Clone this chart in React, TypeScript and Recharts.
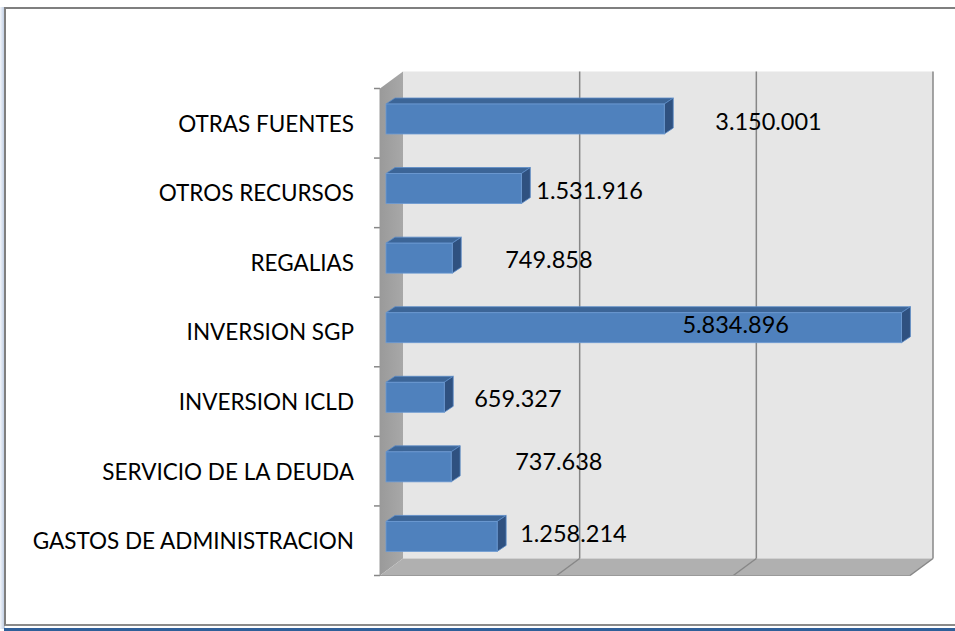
import React from "react";
import { BarChart, Bar, XAxis, YAxis, LabelList, usePlotArea } from "recharts";

const categories = [
  "OTRAS FUENTES",
  "OTROS RECURSOS",
  "REGALIAS",
  "INVERSION SGP",
  "INVERSION ICLD",
  "SERVICIO DE LA DEUDA",
  "GASTOS DE ADMINISTRACION",
];
const values = [3150001, 1531916, 749858, 5834896, 659327, 737638, 1258214];
const valueLabels = ["3.150.001", "1.531.916", "749.858", "5.834.896", "659.327", "737.638", "1.258.214"];
const xTicks = [0, 2000000, 4000000, 6000000];

// hand-moved data labels, as in the original workbook (dx from bar end, dy from bar centre)
const labelNudge: [number, number][] = [
  [51, 2], [15, 1], [53, 1], [-219, -4], [30, 1], [64, -6], [23, -3],
];

const data = categories.map((name, i) => ({ name, value: values[i], label: valueLabels[i] }));

const W = 955;
const H = 631;
const X_MAX = 6000000;
// 3D box: front plane and back plane, relative to the bar front face plane
const FRONT = { dx: -6, dy: 4.5 };
const BACK = { dx: 17, dy: -12.5 };
const BAR_DEPTH = { dx: 9, dy: -6 };

const FONT = "Lato, 'Open Sans', sans-serif";

function Walls() {
  const p = usePlotArea();
  if (!p) return null;
  const xs = (v: number) => p.x + (v / X_MAX) * p.width;
  const fx0 = p.x + FRONT.dx;
  const fTop = p.y + FRONT.dy;
  const fBot = p.y + p.height + FRONT.dy;
  const bx0 = p.x + BACK.dx;
  const bTop = p.y + BACK.dy;
  const bBot = p.y + p.height + BACK.dy;
  const bx1 = xs(X_MAX) + BACK.dx;
  const fx1 = xs(X_MAX) + FRONT.dx;
  const band = p.height / categories.length;

  return (
    <g>
      <defs>
        <linearGradient id="sideWall" x1="0" y1="0" x2="1" y2="0">
          <stop offset="0" stopColor="#9a9a9a" />
          <stop offset="1" stopColor="#a8a8a8" />
        </linearGradient>
      </defs>
      <rect x={bx0} y={bTop} width={bx1 - bx0} height={bBot - bTop} fill="#e6e6e6" />
      <polygon
        points={`${fx0},${fTop} ${bx0},${bTop} ${bx0},${bBot} ${fx0},${fBot}`}
        fill="url(#sideWall)"
      />
      <polygon
        points={`${fx0},${fBot} ${bx0},${bBot} ${bx1},${bBot} ${fx1},${fBot}`}
        fill="#b0b0b0"
      />
      {xTicks.slice(1).map((t) => (
        <g key={t}>
          <line x1={xs(t) + BACK.dx} y1={bTop} x2={xs(t) + BACK.dx} y2={bBot} stroke="#878787" strokeWidth={1.5} />
          <line x1={xs(t) + FRONT.dx} y1={fBot} x2={xs(t) + BACK.dx} y2={bBot} stroke="#878787" strokeWidth={1.5} />
        </g>
      ))}
      <line x1={fx0} y1={fBot} x2={fx1} y2={fBot} stroke="#9a9a9a" strokeWidth={1} />
      {Array.from({ length: categories.length + 1 }, (_, i) => (
        <line
          key={i}
          x1={fx0 - 6}
          x2={fx0}
          y1={fTop + i * band}
          y2={fTop + i * band}
          stroke="#878787"
          strokeWidth={1.5}
        />
      ))}
      <line x1={fx0} y1={fTop} x2={fx0} y2={fBot} stroke="#9a9a9a" strokeWidth={1} />
    </g>
  );
}

function Bar3D(props: any) {
  const { x, y, width, height } = props;
  if (width == null || width <= 0) return null;
  const { dx, dy } = BAR_DEPTH;
  return (
    <g>
      <polygon
        points={`${x},${y} ${x + dx},${y + dy} ${x + width + dx},${y + dy} ${x + width},${y}`}
        fill="#3c6597"
        stroke="#5b8cc8"
        strokeWidth={0.8}
      />
      <polygon
        points={`${x + width},${y} ${x + width + dx},${y + dy} ${x + width + dx},${y + height + dy} ${x + width},${y + height}`}
        fill="#2f5180"
        stroke="#5b8cc8"
        strokeWidth={0.8}
      />
      <rect x={x} y={y} width={width} height={height} fill="#4f81bd" stroke="#6e9bd3" strokeWidth={0.8} />
    </g>
  );
}

function ValueLabel(props: any) {
  const { x, y, width, height, index } = props;
  const [ndx, ndy] = labelNudge[index] || [10, 0];
  return (
    <text
      x={x + width + ndx}
      y={y + height / 2 + ndy}
      dominantBaseline="central"
      fontFamily={FONT}
      fontSize={23.5}
      fill="#000"
    >
      {valueLabels[index]}
    </text>
  );
}

export default function App() {
  return (
    <div style={{ position: "absolute", left: 0, top: 0, width: W, height: H, background: "#fff", overflow: "hidden" }}>
      <div
        style={{
          position: "absolute",
          left: 0,
          top: 7,
          width: 5,
          height: 622,
          background: "linear-gradient(to right, #f2f5fa, #b8c8e0)",
        }}
      />
      <div
        style={{
          position: "absolute",
          left: 4,
          top: 7,
          width: W,
          height: 619,
          borderTop: "2px solid #7f7f7f",
          borderLeft: "2px solid #7f7f7f",
          borderBottom: "2px solid #8a8a8a",
          boxSizing: "border-box",
        }}
      />
      <div style={{ position: "absolute", left: 4, top: 628, width: W, height: 3, background: "#2f5f99" }} />
      <div style={{ position: "absolute", left: 0, top: 0 }}>
        <BarChart
          width={W}
          height={H}
          data={data}
          layout="vertical"
          margin={{ top: 84, right: 39, bottom: 60, left: 0 }}
          barCategoryGap={0}
        >
          <Walls />
          <XAxis type="number" domain={[0, X_MAX]} ticks={xTicks} hide />
          <YAxis
            type="category"
            dataKey="name"
            width={386}
            axisLine={false}
            tickLine={false}
            tickSize={0}
            tickMargin={32}
            tick={{ fontFamily: FONT, fontSize: 22.5, fill: "#000", dy: 5 }}
          />
          <Bar dataKey="value" barSize={30} shape={<Bar3D />} isAnimationActive={false}>
            <LabelList dataKey="label" content={<ValueLabel />} />
          </Bar>
        </BarChart>
      </div>
    </div>
  );
}
